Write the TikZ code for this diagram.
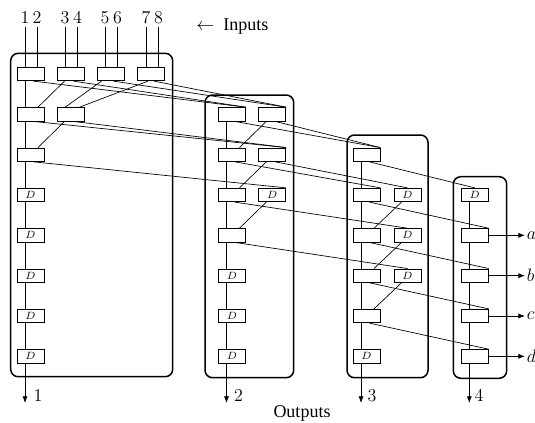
\documentclass[tikz,border=0pt]{standalone}
\usepackage{fontspec}
\setmainfont{Liberation Serif}
\usetikzlibrary{arrows.meta}
\tikzset{
	blk/.style={draw, fill=white, line width=0.5pt, minimum width=18pt, minimum height=9pt, inner sep=0pt},
	dly/.style={blk, font=\scriptsize},
	cell/.style={line width=1pt, rounded corners=5pt},
	wire/.style={line width=0.45pt},
}
\begin{document}
\begin{tikzpicture}[x=0.6667pt, y=-0.6667pt, >={Latex[length=4.5pt,width=3.4pt]}, font=\large]
	\useasboundingbox (0,0) rectangle (535,422);
	% frames of the four stages
	\draw[cell] (10.7,53.3) rectangle (172.7,376.7);
	\draw[cell] (205,95) rectangle (293.7,377.7);
	\draw[cell] (347,135) rectangle (428,377.7);
	\draw[cell] (453.3,176.7) rectangle (506.7,378.3);
	\coordinate (v1) at (25,0);
	\coordinate (v2) at (226.5,0);
	\coordinate (v3) at (361,0);
	\coordinate (v4) at (469.3,0);
	% stage 1
	\node[blk] (c1r0a) at (30.5,74) {};
	\node[blk] (c1r0b) at (70.5,74) {};
	\node[blk] (c1r0c) at (110.5,74) {};
	\node[blk] (c1r0d) at (151,74) {};
	\node[blk] (c1r1a) at (30.5,114.3) {};
	\node[blk] (c1r1b) at (70.5,114.3) {};
	\node[blk] (c1r2a) at (30.5,154.7) {};
	\foreach \r in {3,...,7}
		\node[dly] (c1r\r a) at (30.5,{74+40.33*\r}) {$D$};
	% stage 2
	\node[blk] (c2r1a) at (232,114.3) {};
	\node[blk] (c2r1b) at (272.3,114.3) {};
	\node[blk] (c2r2a) at (232,154.7) {};
	\node[blk] (c2r2b) at (272.3,154.7) {};
	\node[blk] (c2r3a) at (232,195) {};
	\node[dly] (c2r3b) at (272.3,195) {$D$};
	\node[blk] (c2r4a) at (232,235.3) {};
	\foreach \r in {5,6,7}
		\node[dly] (c2r\r a) at (232,{74+40.33*\r}) {$D$};
	% stage 3
	\node[blk] (c3r2a) at (366.5,154.7) {};
	\foreach \r in {3,4,5} {
		\node[blk] (c3r\r a) at (366.5,{74+40.33*\r}) {};
		\node[dly] (c3r\r b) at (407.5,{74+40.33*\r}) {$D$};
	}
	\node[blk] (c3r6a) at (366.5,316) {};
	\node[dly] (c3r7a) at (366.5,356.3) {$D$};
	% stage 4
	\node[dly] (c4r3a) at (474.8,195) {$D$};
	\foreach \r in {4,...,7}
		\node[blk] (c4r\r a) at (474.8,{74+40.33*\r}) {};
	% inputs
	\foreach \i/\x in {1/25, 2/37, 3/65, 4/77.5, 5/105, 6/117.5, 7/146, 8/158.5}
		\node[inner sep=2pt] (in\i) at (\x,18) {$\i$};
	\foreach \i/\b in {1/c1r0a, 2/c1r0a, 3/c1r0b, 4/c1r0b, 5/c1r0c, 6/c1r0c, 7/c1r0d, 8/c1r0d}
		\draw[wire] (in\i.south) -- (in\i.south |- \b.north);
	\node[anchor=west] (inp) at (191,27) {$\leftarrow$\enspace Inputs};
	% vertical chains and outputs
	\foreach \c/\f/\vx/\lx in {1/0/25/38, 2/1/226.5/238.5, 3/2/361/372, 4/3/469.3/479} {
		\foreach \r [evaluate=\r as \s using int(\r+1)] in {\f,...,6}
			\draw[wire] (c\c r\r a.south -| v\c) -- (c\c r\s a.north -| v\c);
		\coordinate (o\c) at (\vx,403);
		\draw[wire, ->] (c\c r7a.south -| v\c) -- (o\c);
		\node (n\c) at (\lx,396) {$\c$};
	}
	\node (outs) at (302,413) {Outputs};
	% links inside a stage
	\foreach \u/\w in {c1r0b/c1r1a, c1r1b/c1r2a, c2r1b/c2r2a, c2r2b/c2r3a, c2r3b/c2r4a, c3r3b/c3r4a, c3r4b/c3r5a, c3r5b/c3r6a}
		\draw[wire] ([xshift=-4pt]\u.south) -- ([xshift=5pt]\w.north);
	\draw[wire] ([xshift=-6pt]c1r0c.south) -- ([xshift=-3.5pt]c1r1b.north);
	\draw[wire] ([xshift=-2pt]c1r0d.south) -- ([xshift=6pt]c1r1b.north);
	% links to the next stage
	\foreach \u/\w/\a in {c1r0a/c2r1a/north east, c1r0b/c2r1a/north east, c1r0c/c2r1b/north east, c1r0d/c2r1b/north east,
		c1r1a/c2r2b/north east, c1r1b/c2r2b/north east, c1r2a/c2r3b/north east,
		c2r1a/c3r2a/north east, c2r1b/c3r2a/north east, c2r2a/c3r3a/north east, c2r2b/c3r3b/north,
		c2r3a/c3r4b/north, c2r4a/c3r5b/north,
		c3r2a/c4r3a/north, c3r3a/c4r4a/north east, c3r4a/c4r5a/north east, c3r5a/c4r6a/north east, c3r6a/c4r7a/north east}
		\draw[wire] ([xshift=2pt]\u.south) -- (\w.\a);
	% side outputs
	\foreach \r/\l in {4/a, 5/b, 6/c, 7/d} {
		\coordinate (e\r) at (525,{74+40.33*\r});
		\draw[wire, ->] (c4r\r a.east) -- (e\r);
		\node[anchor=west, inner sep=1pt] (l\l) at (e\r) {$\l$};
	}
\end{tikzpicture}
\end{document}
